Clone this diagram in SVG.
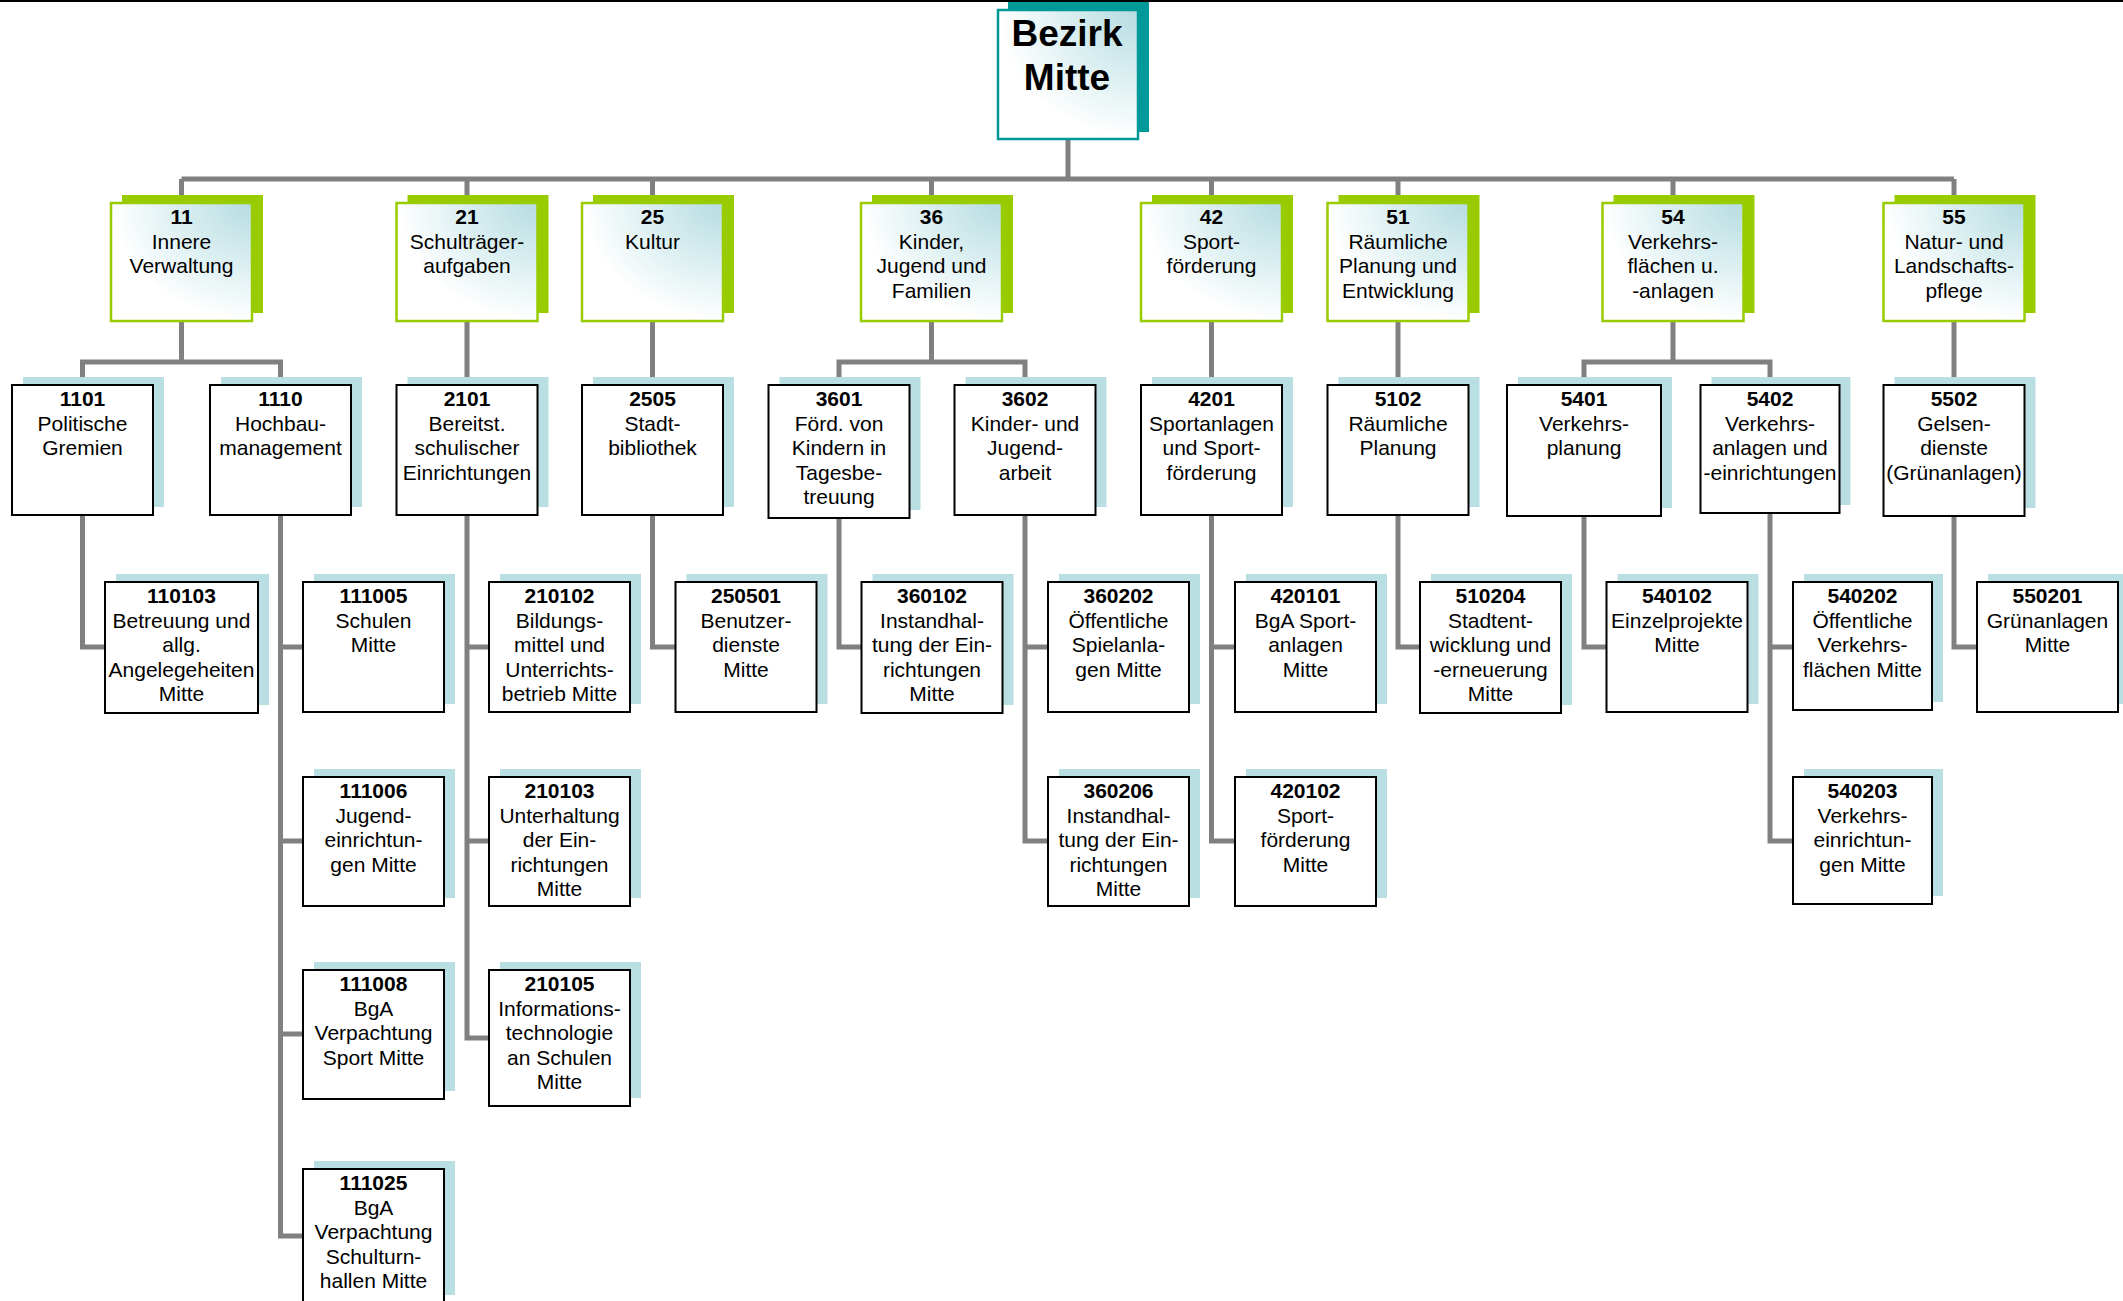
<svg xmlns="http://www.w3.org/2000/svg" width="2123" height="1301" viewBox="0 0 2123 1301">
<defs>
<radialGradient id="gl" cx="100%" cy="0%" r="110%">
<stop offset="0" stop-color="#b6dce0"/>
<stop offset="0.45" stop-color="#d9eef0"/>
<stop offset="0.9" stop-color="#ffffff"/>
</radialGradient>
<style>
.t{font-family:"Liberation Sans",Arial,sans-serif;font-size:21px;text-anchor:middle;fill:#000}
.b{font-weight:bold}
.r{font-family:"Liberation Sans",Arial,sans-serif;font-size:37px;font-weight:bold;text-anchor:middle;fill:#000}
.sr{fill:#009999}
.br{fill:url(#gl);stroke:#009999;stroke-width:2.5}
.s1{fill:#99cc00}
.b1{fill:url(#gl);stroke:#99cc00;stroke-width:2.5}
.s2{fill:#badfe2}
.b2{fill:#ffffff;stroke:#000;stroke-width:2}
.c{fill:none;stroke:#808080;stroke-width:5}
</style>
</defs>
<rect x="0" y="0" width="2123" height="2" fill="#000"/>
<g id="connectors">
<path class="c" d="M1068 139V179M181.5 179H1954M181.5 179V203M467 179V203M652.5 179V203M931.5 179V203M1211.5 179V203M1398 179V203M1673 179V203M1954 179V203"/>
<path class="c" d="M181.5 321V362M82.5 385V362H280.5V385M467 321V385M652.5 321V385M931.5 321V362M839 385V362H1025V385M1211.5 321V385M1398 321V385M1673 321V362M1584 385V362H1770V385M1954 321V385"/>
<path class="c" d="M82.5 515V647H105M280.5 515V1236H303M280.5 647H303M280.5 841H303M280.5 1034H303M467 515V1038H489M467 647H489M467 841H489M652.5 515V647H676M839 518V647H862M1025 515V841H1048M1025 647H1048M1211.5 515V841H1235M1211.5 647H1235M1398 515V647H1420M1584 516V647H1607M1770 513V841H1793M1770 647H1793M1954 516V647H1977"/>
</g>
<g id="root">
<rect class="sr" x="1008" y="2" width="141" height="130"/>
<rect class="br" x="998" y="10" width="140" height="129"/>
<text class="r" x="1067" y="46">Bezirk</text>
<text class="r" x="1067" y="90">Mitte</text>
</g>
<g id="n11"><rect class="s1" x="122" y="195" width="141" height="118"/><rect class="b1" x="111" y="203" width="141" height="118"/>
<text class="t"><tspan class="b" x="181.5" y="224">11</tspan><tspan x="181.5" y="248.5">Innere</tspan><tspan x="181.5" y="273">Verwaltung</tspan></text></g>
<g id="n21"><rect class="s1" x="407.5" y="195" width="141" height="118"/><rect class="b1" x="396.5" y="203" width="141" height="118"/>
<text class="t"><tspan class="b" x="467" y="224">21</tspan><tspan x="467" y="248.5">Schulträger-</tspan><tspan x="467" y="273">aufgaben</tspan></text></g>
<g id="n25"><rect class="s1" x="593" y="195" width="141" height="118"/><rect class="b1" x="582" y="203" width="141" height="118"/>
<text class="t"><tspan class="b" x="652.5" y="224">25</tspan><tspan x="652.5" y="248.5">Kultur</tspan></text></g>
<g id="n36"><rect class="s1" x="872" y="195" width="141" height="118"/><rect class="b1" x="861" y="203" width="141" height="118"/>
<text class="t"><tspan class="b" x="931.5" y="224">36</tspan><tspan x="931.5" y="248.5">Kinder,</tspan><tspan x="931.5" y="273">Jugend und</tspan><tspan x="931.5" y="297.5">Familien</tspan></text></g>
<g id="n42"><rect class="s1" x="1152" y="195" width="141" height="118"/><rect class="b1" x="1141" y="203" width="141" height="118"/>
<text class="t"><tspan class="b" x="1211.5" y="224">42</tspan><tspan x="1211.5" y="248.5">Sport-</tspan><tspan x="1211.5" y="273">förderung</tspan></text></g>
<g id="n51"><rect class="s1" x="1338.5" y="195" width="141" height="118"/><rect class="b1" x="1327.5" y="203" width="141" height="118"/>
<text class="t"><tspan class="b" x="1398" y="224">51</tspan><tspan x="1398" y="248.5">Räumliche</tspan><tspan x="1398" y="273">Planung und</tspan><tspan x="1398" y="297.5">Entwicklung</tspan></text></g>
<g id="n54"><rect class="s1" x="1613.5" y="195" width="141" height="118"/><rect class="b1" x="1602.5" y="203" width="141" height="118"/>
<text class="t"><tspan class="b" x="1673" y="224">54</tspan><tspan x="1673" y="248.5">Verkehrs-</tspan><tspan x="1673" y="273">flächen u.</tspan><tspan x="1673" y="297.5">-anlagen</tspan></text></g>
<g id="n55"><rect class="s1" x="1894.5" y="195" width="141" height="118"/><rect class="b1" x="1883.5" y="203" width="141" height="118"/>
<text class="t"><tspan class="b" x="1954" y="224">55</tspan><tspan x="1954" y="248.5">Natur- und</tspan><tspan x="1954" y="273">Landschafts-</tspan><tspan x="1954" y="297.5">pflege</tspan></text></g>

<g id="n1101"><rect class="s2" x="23" y="377" width="141" height="130"/><rect class="b2" x="12" y="385" width="141" height="130"/>
<text class="t"><tspan class="b" x="82.5" y="406">1101</tspan><tspan x="82.5" y="430.5">Politische</tspan><tspan x="82.5" y="455">Gremien</tspan></text></g>
<g id="n1110"><rect class="s2" x="221" y="377" width="141" height="130"/><rect class="b2" x="210" y="385" width="141" height="130"/>
<text class="t"><tspan class="b" x="280.5" y="406">1110</tspan><tspan x="280.5" y="430.5">Hochbau-</tspan><tspan x="280.5" y="455">management</tspan></text></g>
<g id="n2101"><rect class="s2" x="407.5" y="377" width="141" height="130"/><rect class="b2" x="396.5" y="385" width="141" height="130"/>
<text class="t"><tspan class="b" x="467" y="406">2101</tspan><tspan x="467" y="430.5">Bereitst.</tspan><tspan x="467" y="455">schulischer</tspan><tspan x="467" y="479.5">Einrichtungen</tspan></text></g>
<g id="n2505"><rect class="s2" x="593" y="377" width="141" height="130"/><rect class="b2" x="582" y="385" width="141" height="130"/>
<text class="t"><tspan class="b" x="652.5" y="406">2505</tspan><tspan x="652.5" y="430.5">Stadt-</tspan><tspan x="652.5" y="455">bibliothek</tspan></text></g>
<g id="n3601"><rect class="s2" x="779.5" y="377" width="141" height="133"/><rect class="b2" x="768.5" y="385" width="141" height="133"/>
<text class="t"><tspan class="b" x="839" y="406">3601</tspan><tspan x="839" y="430.5">Förd. von</tspan><tspan x="839" y="455">Kindern in</tspan><tspan x="839" y="479.5">Tagesbe-</tspan><tspan x="839" y="504">treuung</tspan></text></g>
<g id="n3602"><rect class="s2" x="965.5" y="377" width="141" height="130"/><rect class="b2" x="954.5" y="385" width="141" height="130"/>
<text class="t"><tspan class="b" x="1025" y="406">3602</tspan><tspan x="1025" y="430.5">Kinder- und</tspan><tspan x="1025" y="455">Jugend-</tspan><tspan x="1025" y="479.5">arbeit</tspan></text></g>
<g id="n4201"><rect class="s2" x="1152" y="377" width="141" height="130"/><rect class="b2" x="1141" y="385" width="141" height="130"/>
<text class="t"><tspan class="b" x="1211.5" y="406">4201</tspan><tspan x="1211.5" y="430.5">Sportanlagen</tspan><tspan x="1211.5" y="455">und Sport-</tspan><tspan x="1211.5" y="479.5">förderung</tspan></text></g>
<g id="n5102"><rect class="s2" x="1338.5" y="377" width="141" height="130"/><rect class="b2" x="1327.5" y="385" width="141" height="130"/>
<text class="t"><tspan class="b" x="1398" y="406">5102</tspan><tspan x="1398" y="430.5">Räumliche</tspan><tspan x="1398" y="455">Planung</tspan></text></g>
<g id="n5401"><rect class="s2" x="1518" y="377" width="154" height="131"/><rect class="b2" x="1507" y="385" width="154" height="131"/>
<text class="t"><tspan class="b" x="1584" y="406">5401</tspan><tspan x="1584" y="430.5">Verkehrs-</tspan><tspan x="1584" y="455">planung</tspan></text></g>
<g id="n5402"><rect class="s2" x="1711.5" y="377" width="139" height="128"/><rect class="b2" x="1700.5" y="385" width="139" height="128"/>
<text class="t"><tspan class="b" x="1770" y="406">5402</tspan><tspan x="1770" y="430.5">Verkehrs-</tspan><tspan x="1770" y="455">anlagen und</tspan><tspan x="1770" y="479.5">-einrichtungen</tspan></text></g>
<g id="n5502"><rect class="s2" x="1894.5" y="377" width="141" height="131"/><rect class="b2" x="1883.5" y="385" width="141" height="131"/>
<text class="t"><tspan class="b" x="1954" y="406">5502</tspan><tspan x="1954" y="430.5">Gelsen-</tspan><tspan x="1954" y="455">dienste</tspan><tspan x="1954" y="479.5">(Grünanlagen)</tspan></text></g>

<g id="n110103"><rect class="s2" x="116" y="574" width="153" height="131"/><rect class="b2" x="105" y="582" width="153" height="131"/>
<text class="t"><tspan class="b" x="181.5" y="603">110103</tspan><tspan x="181.5" y="627.5">Betreuung und</tspan><tspan x="181.5" y="652">allg.</tspan><tspan x="181.5" y="676.5">Angelegeheiten</tspan><tspan x="181.5" y="701">Mitte</tspan></text></g>
<g id="n111005"><rect class="s2" x="314" y="574" width="141" height="130"/><rect class="b2" x="303" y="582" width="141" height="130"/>
<text class="t"><tspan class="b" x="373.5" y="603">111005</tspan><tspan x="373.5" y="627.5">Schulen</tspan><tspan x="373.5" y="652">Mitte</tspan></text></g>
<g id="n111006"><rect class="s2" x="314" y="769" width="141" height="129"/><rect class="b2" x="303" y="777" width="141" height="129"/>
<text class="t"><tspan class="b" x="373.5" y="798">111006</tspan><tspan x="373.5" y="822.5">Jugend-</tspan><tspan x="373.5" y="847">einrichtun-</tspan><tspan x="373.5" y="871.5">gen Mitte</tspan></text></g>
<g id="n111008"><rect class="s2" x="314" y="962" width="141" height="129"/><rect class="b2" x="303" y="970" width="141" height="129"/>
<text class="t"><tspan class="b" x="373.5" y="991">111008</tspan><tspan x="373.5" y="1015.5">BgA</tspan><tspan x="373.5" y="1040">Verpachtung</tspan><tspan x="373.5" y="1064.5">Sport Mitte</tspan></text></g>
<g id="n111025"><rect class="s2" x="314" y="1161" width="141" height="134"/><rect class="b2" x="303" y="1169" width="141" height="134"/>
<text class="t"><tspan class="b" x="373.5" y="1190">111025</tspan><tspan x="373.5" y="1214.5">BgA</tspan><tspan x="373.5" y="1239">Verpachtung</tspan><tspan x="373.5" y="1263.5">Schulturn-</tspan><tspan x="373.5" y="1288">hallen Mitte</tspan></text></g>
<g id="n210102"><rect class="s2" x="500" y="574" width="141" height="130"/><rect class="b2" x="489" y="582" width="141" height="130"/>
<text class="t"><tspan class="b" x="559.5" y="603">210102</tspan><tspan x="559.5" y="627.5">Bildungs-</tspan><tspan x="559.5" y="652">mittel und</tspan><tspan x="559.5" y="676.5">Unterrichts-</tspan><tspan x="559.5" y="701">betrieb Mitte</tspan></text></g>
<g id="n210103"><rect class="s2" x="500" y="769" width="141" height="129"/><rect class="b2" x="489" y="777" width="141" height="129"/>
<text class="t"><tspan class="b" x="559.5" y="798">210103</tspan><tspan x="559.5" y="822.5">Unterhaltung</tspan><tspan x="559.5" y="847">der Ein-</tspan><tspan x="559.5" y="871.5">richtungen</tspan><tspan x="559.5" y="896">Mitte</tspan></text></g>
<g id="n210105"><rect class="s2" x="500" y="962" width="141" height="136"/><rect class="b2" x="489" y="970" width="141" height="136"/>
<text class="t"><tspan class="b" x="559.5" y="991">210105</tspan><tspan x="559.5" y="1015.5">Informations-</tspan><tspan x="559.5" y="1040">technologie</tspan><tspan x="559.5" y="1064.5">an Schulen</tspan><tspan x="559.5" y="1089">Mitte</tspan></text></g>
<g id="n250501"><rect class="s2" x="686.5" y="574" width="141" height="130"/><rect class="b2" x="675.5" y="582" width="141" height="130"/>
<text class="t"><tspan class="b" x="746" y="603">250501</tspan><tspan x="746" y="627.5">Benutzer-</tspan><tspan x="746" y="652">dienste</tspan><tspan x="746" y="676.5">Mitte</tspan></text></g>
<g id="n360102"><rect class="s2" x="872.5" y="574" width="141" height="131"/><rect class="b2" x="861.5" y="582" width="141" height="131"/>
<text class="t"><tspan class="b" x="932" y="603">360102</tspan><tspan x="932" y="627.5">Instandhal-</tspan><tspan x="932" y="652">tung der Ein-</tspan><tspan x="932" y="676.5">richtungen</tspan><tspan x="932" y="701">Mitte</tspan></text></g>
<g id="n360202"><rect class="s2" x="1059" y="574" width="141" height="130"/><rect class="b2" x="1048" y="582" width="141" height="130"/>
<text class="t"><tspan class="b" x="1118.5" y="603">360202</tspan><tspan x="1118.5" y="627.5">Öffentliche</tspan><tspan x="1118.5" y="652">Spielanla-</tspan><tspan x="1118.5" y="676.5">gen Mitte</tspan></text></g>
<g id="n360206"><rect class="s2" x="1059" y="769" width="141" height="129"/><rect class="b2" x="1048" y="777" width="141" height="129"/>
<text class="t"><tspan class="b" x="1118.5" y="798">360206</tspan><tspan x="1118.5" y="822.5">Instandhal-</tspan><tspan x="1118.5" y="847">tung der Ein-</tspan><tspan x="1118.5" y="871.5">richtungen</tspan><tspan x="1118.5" y="896">Mitte</tspan></text></g>
<g id="n420101"><rect class="s2" x="1246" y="574" width="141" height="130"/><rect class="b2" x="1235" y="582" width="141" height="130"/>
<text class="t"><tspan class="b" x="1305.5" y="603">420101</tspan><tspan x="1305.5" y="627.5">BgA Sport-</tspan><tspan x="1305.5" y="652">anlagen</tspan><tspan x="1305.5" y="676.5">Mitte</tspan></text></g>
<g id="n420102"><rect class="s2" x="1246" y="769" width="141" height="129"/><rect class="b2" x="1235" y="777" width="141" height="129"/>
<text class="t"><tspan class="b" x="1305.5" y="798">420102</tspan><tspan x="1305.5" y="822.5">Sport-</tspan><tspan x="1305.5" y="847">förderung</tspan><tspan x="1305.5" y="871.5">Mitte</tspan></text></g>
<g id="n510204"><rect class="s2" x="1431" y="574" width="141" height="131"/><rect class="b2" x="1420" y="582" width="141" height="131"/>
<text class="t"><tspan class="b" x="1490.5" y="603">510204</tspan><tspan x="1490.5" y="627.5">Stadtent-</tspan><tspan x="1490.5" y="652">wicklung und</tspan><tspan x="1490.5" y="676.5">-erneuerung</tspan><tspan x="1490.5" y="701">Mitte</tspan></text></g>
<g id="n540102"><rect class="s2" x="1617.5" y="574" width="141" height="130"/><rect class="b2" x="1606.5" y="582" width="141" height="130"/>
<text class="t"><tspan class="b" x="1677" y="603">540102</tspan><tspan x="1677" y="627.5">Einzelprojekte</tspan><tspan x="1677" y="652">Mitte</tspan></text></g>
<g id="n540202"><rect class="s2" x="1804" y="574" width="139" height="128"/><rect class="b2" x="1793" y="582" width="139" height="128"/>
<text class="t"><tspan class="b" x="1862.5" y="603">540202</tspan><tspan x="1862.5" y="627.5">Öffentliche</tspan><tspan x="1862.5" y="652">Verkehrs-</tspan><tspan x="1862.5" y="676.5">flächen Mitte</tspan></text></g>
<g id="n540203"><rect class="s2" x="1804" y="769" width="139" height="127"/><rect class="b2" x="1793" y="777" width="139" height="127"/>
<text class="t"><tspan class="b" x="1862.5" y="798">540203</tspan><tspan x="1862.5" y="822.5">Verkehrs-</tspan><tspan x="1862.5" y="847">einrichtun-</tspan><tspan x="1862.5" y="871.5">gen Mitte</tspan></text></g>
<g id="n550201"><rect class="s2" x="1988" y="574" width="141" height="130"/><rect class="b2" x="1977" y="582" width="141" height="130"/>
<text class="t"><tspan class="b" x="2047.5" y="603">550201</tspan><tspan x="2047.5" y="627.5">Grünanlagen</tspan><tspan x="2047.5" y="652">Mitte</tspan></text></g>
</svg>
